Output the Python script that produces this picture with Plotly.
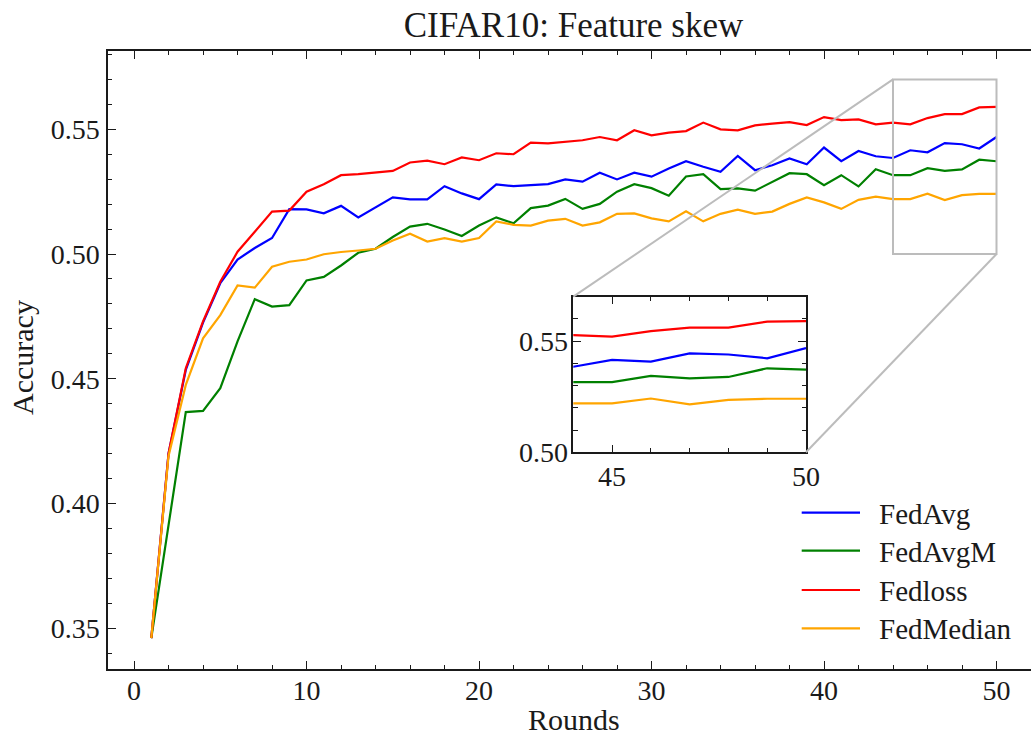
import plotly.graph_objects as go

# ---- data -------------------------------------------------------------
rounds = list(range(1, 51))

fedavg = [0.346, 0.420, 0.4535, 0.4725, 0.4883, 0.4978, 0.5024, 0.5064, 0.5180, 0.5179,
          0.5163, 0.5193, 0.5147, 0.5187, 0.5227, 0.5219, 0.5219, 0.5272, 0.5243, 0.5220,
          0.5279, 0.5272, 0.5276, 0.5280, 0.5299, 0.5290, 0.5326, 0.5299, 0.5326, 0.5310,
          0.5343, 0.5372, 0.5350, 0.5330, 0.5393, 0.5336, 0.5356, 0.5383, 0.5360, 0.5427,
          0.5372, 0.5413, 0.5392, 0.5385, 0.5416, 0.5408, 0.5445, 0.5440, 0.5423, 0.5469]

fedavgm = [0.346, 0.392, 0.4366, 0.4371, 0.4462, 0.4650, 0.4819, 0.4789, 0.4795, 0.4894,
           0.4908, 0.4954, 0.5005, 0.5021, 0.5068, 0.5110, 0.5121, 0.5098, 0.5072, 0.5114,
           0.5147, 0.5123, 0.5184, 0.5194, 0.5221, 0.5181, 0.5201, 0.5250, 0.5280, 0.5264,
           0.5234, 0.5311, 0.5320, 0.5260, 0.5263, 0.5254, 0.5290, 0.5324, 0.5320, 0.5276,
           0.5316, 0.5271, 0.5340, 0.5316, 0.5316, 0.5344, 0.5333, 0.5339, 0.5378, 0.5372]

fedloss = [0.346, 0.420, 0.4542, 0.4730, 0.4889, 0.5009, 0.5089, 0.5170, 0.5174, 0.5250,
           0.5280, 0.5316, 0.5320, 0.5327, 0.5333, 0.5367, 0.5374, 0.5360, 0.5387, 0.5376,
           0.5404, 0.5400, 0.5447, 0.5444, 0.5451, 0.5456, 0.5469, 0.5456, 0.5496, 0.5476,
           0.5487, 0.5493, 0.5527, 0.5500, 0.5496, 0.5516, 0.5523, 0.5529, 0.5517, 0.5549,
           0.5537, 0.5540, 0.5520, 0.5527, 0.5520, 0.5545, 0.5561, 0.5561, 0.5588, 0.5590]

fedmedian = [0.346, 0.419, 0.4475, 0.4662, 0.4755, 0.4874, 0.4865, 0.4949, 0.4969, 0.4978,
             0.4999, 0.5008, 0.5014, 0.5021, 0.5054, 0.5081, 0.5050, 0.5064, 0.5050, 0.5064,
             0.5131, 0.5117, 0.5114, 0.5134, 0.5141, 0.5114, 0.5127, 0.5161, 0.5163, 0.5143,
             0.5131, 0.5171, 0.5131, 0.5161, 0.5178, 0.5161, 0.5170, 0.5201, 0.5227, 0.5207,
             0.5181, 0.5217, 0.5230, 0.5220, 0.5220, 0.5242, 0.5216, 0.5236, 0.5241, 0.5241]

series_names = ["FedAvg", "FedAvgM", "Fedloss", "FedMedian"]
series_values = [fedavg, fedavgm, fedloss, fedmedian]
series_colors = ["#0000ff", "#008000", "#ff0000", "#ffa500"]

x_ticks = [0, 10, 20, 30, 40, 50]
y_ticks = [0.35, 0.40, 0.45, 0.50, 0.55]
inset_x_ticks = [45, 50]
inset_y_ticks = [0.50, 0.55]

title_text = "CIFAR10: Feature skew"
x_label = "Rounds"
y_label = "Accuracy"

# ---- geometry ---------------------------------------------------------
W, H = 1031, 735
PL, PR, PT, PB = 108, 1031, 51, 669          # plot-area edges in pixels
x_range = [-1.51, 52.0]
y_range = [0.3336, 0.5814]
inset_x_range = [44, 50]
inset_y_range = [0.50, 0.57]
inset_px = (573.3, 806.0, 296.7, 452.3)       # left, right, top, bottom


def paper_x(px):
    return (px - PL) / (PR - PL)


def paper_y(py):
    return (PB - py) / (PB - PT)


def data_to_paper(x, y):
    return ((x - x_range[0]) / (x_range[1] - x_range[0]),
            (y - y_range[0]) / (y_range[1] - y_range[0]))


inset_dom_x = [paper_x(inset_px[0]), paper_x(inset_px[1])]
inset_dom_y = [paper_y(inset_px[3]), paper_y(inset_px[2])]

FONT = "Liberation Serif"
INK = "#1a1a1a"
LINE_W = 2.2
TICK_SIZE = 28

fig = go.Figure()

# main curves
for name, vals, col in zip(series_names, series_values, series_colors):
    fig.add_trace(go.Scatter(x=rounds, y=vals, mode="lines", name=name,
                             line=dict(color=col, width=LINE_W),
                             xaxis="x", yaxis="y", showlegend=False))

# zoomed inset curves
lo = inset_x_range[0] - 1
for name, vals, col in zip(series_names, series_values, series_colors):
    xs = [r for r in rounds if r >= lo]
    ys = [v for r, v in zip(rounds, vals) if r >= lo]
    fig.add_trace(go.Scatter(x=xs, y=ys, mode="lines", name=name,
                             line=dict(color=col, width=LINE_W),
                             xaxis="x2", yaxis="y2", showlegend=False))

axis_common = dict(showline=True, linecolor=INK, linewidth=1.5, automargin=False,
                   ticks="inside", tickcolor=INK, tickwidth=1.3, ticklen=8,
                   showgrid=False, zeroline=False,
                   tickfont=dict(family=FONT, size=TICK_SIZE, color=INK))


def minor_ticks(step):
    return dict(tickmode="linear", tick0=0, dtick=step, ticks="inside",
                ticklen=4.5, tickwidth=1.1, tickcolor=INK, showgrid=False)


fig.update_layout(
    template="none",
    width=W, height=H, autosize=False,
    margin=dict(l=PL, r=W - PR, t=PT, b=H - PB, pad=0, autoexpand=False),
    paper_bgcolor="white", plot_bgcolor="white",
    showlegend=False,
    font=dict(family=FONT, size=TICK_SIZE, color=INK),
    title=dict(text=title_text, x=573.5 / W, xref="container", xanchor="center",
               y=1 - 25 / H, yref="container", yanchor="middle",
               font=dict(family=FONT, size=35, color=INK)),
    xaxis=dict(axis_common, range=x_range, domain=[0, 1], anchor="y",
               mirror="ticks", tickmode="array", tickvals=x_ticks,
               ticktext=[str(v) for v in x_ticks], ticklabelstandoff=-4,
               minor=minor_ticks(2)),
    yaxis=dict(axis_common, range=y_range, domain=[0, 1], anchor="x",
               mirror=False, tickmode="array", tickvals=y_ticks,
               ticktext=[f"{v:.2f}" for v in y_ticks], ticklabelstandoff=1,
               minor=minor_ticks(0.01)),
    xaxis2=dict(axis_common, range=inset_x_range, domain=inset_dom_x, anchor="y2",
                mirror="ticks", tickmode="array", tickvals=inset_x_ticks,
                ticktext=[str(v) for v in inset_x_ticks], ticklabelstandoff=-2,
                minor=minor_ticks(1)),
    yaxis2=dict(axis_common, range=inset_y_range, domain=inset_dom_y, anchor="x2",
                mirror="ticks", tickmode="array", tickvals=inset_y_ticks,
                ticktext=[f"{v:.2f}" for v in inset_y_ticks], ticklabelstandoff=-2,
                minor=minor_ticks(0.01)),
)

shapes = []
GREY = "#bcbcbc"
# zoom window on the main axes
shapes.append(dict(type="rect", xref="x", yref="y",
                   x0=inset_x_range[0], x1=inset_x_range[1],
                   y0=inset_y_range[0], y1=inset_y_range[1],
                   line=dict(color=GREY, width=2), layer="above"))
# connectors from zoom window to inset corners
c1 = data_to_paper(inset_x_range[0], inset_y_range[1])
c2 = data_to_paper(inset_x_range[1], inset_y_range[0])
shapes.append(dict(type="line", xref="paper", yref="paper",
                   x0=c1[0], y0=c1[1], x1=inset_dom_x[0], y1=inset_dom_y[1],
                   line=dict(color=GREY, width=2), layer="above"))
shapes.append(dict(type="line", xref="paper", yref="paper",
                   x0=c2[0], y0=c2[1], x1=inset_dom_x[1], y1=inset_dom_y[0],
                   line=dict(color=GREY, width=2), layer="above"))

# legend
annotations = []
legend_rows = [512.7, 550.7, 590.0, 628.3]
for name, col, ry in zip(series_names, series_colors, legend_rows):
    shapes.append(dict(type="line", xref="paper", yref="paper",
                       x0=paper_x(801.7), x1=paper_x(860), y0=paper_y(ry), y1=paper_y(ry),
                       line=dict(color=col, width=LINE_W), layer="above"))
    annotations.append(dict(text=name, xref="paper", yref="paper",
                            x=paper_x(877), y=paper_y(ry + 1), xanchor="left", yanchor="middle",
                            showarrow=False, font=dict(family=FONT, size=29, color=INK)))

annotations.append(dict(text=x_label, xref="paper", yref="paper",
                        x=paper_x(573.5), y=paper_y(719), xanchor="center", yanchor="middle",
                        showarrow=False, font=dict(family=FONT, size=30, color=INK)))
annotations.append(dict(text=y_label, xref="paper", yref="paper",
                        x=paper_x(22), y=paper_y(358), xanchor="center", yanchor="middle",
                        textangle=-90, showarrow=False,
                        font=dict(family=FONT, size=30, color=INK)))

fig.update_layout(shapes=shapes, annotations=annotations)

fig.write_html("out.html")
